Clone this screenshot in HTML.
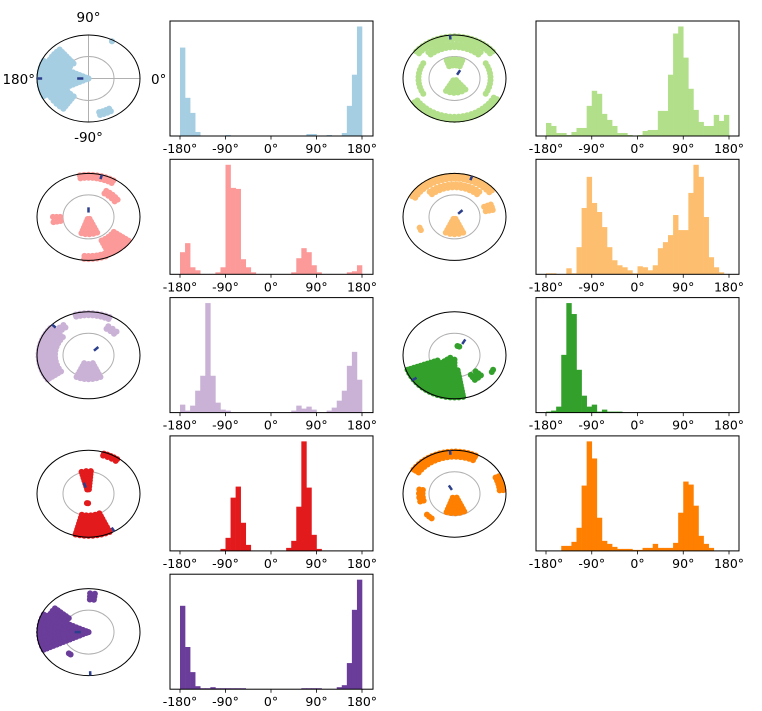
<!DOCTYPE html>
<html><head><meta charset="utf-8"><style>
html,body{margin:0;padding:0;background:#fff;}
svg{display:block;font-family:"DejaVu Sans","Liberation Sans",sans-serif;}
</style></head><body>
<svg id="chart" width="762" height="711" viewBox="0 0 762 711" xmlns="http://www.w3.org/2000/svg">
<g id="layer"></g>
</svg>
<script>
const binEdges = [-180,-170,-160,-150,-140,-130,-120,-110,-100,-90,-80,-70,-60,-50,-40,-30,-20,-10,0,10,20,30,40,50,60,70,80,90,100,110,120,130,140,150,160,170,180];
const tickValues = [-180,-90,0,90,180];
const tickLabels = ["-180°","-90°","0°","90°","180°"];
const seriesNames = ["light-blue","light-green","pink","light-orange","lavender","green","red","orange","purple"];
const seriesColors = ["#a6cee3","#b2df8a","#fb9a99","#fdbf6f","#cab2d6","#33a02c","#e31a1c","#ff7f00","#6a3d9a"];
const counts0 = [88,38,23,4,0,0,0,0,0,1,0,0,0,0,0,0,0,0,0,0,0,0,0,0,0,2,2,0,0,1,0,0,3,30,61,109];
const counts1 = [13,10,3,3,1,4,8,8,30,45,42,22,16,10,3,3,1,0,1,5,6,6,25,25,61,102,109,78,47,26,14,10,10,21,15,21];
const counts2 = [22,31,7,4,0,0,0,2,7,109,86,85,15,7,2,0,0,0,0,0,0,0,2,16,26,22,9,2,0,0,0,0,0,2,3,9];
const counts3 = [1,1,0,0,6,1,27,66,97,71,62,47,27,14,9,7,4,1,8,7,4,9,26,32,39,59,44,44,81,109,97,57,17,7,2,0];
const counts4 = [8,2,7,22,37,110,37,10,3,2,0,0,0,0,0,0,0,0,0,0,0,0,2,7,4,6,3,0,0,2,5,12,22,47,61,33];
const counts5 = [1,2,6,58,110,99,43,17,6,8,1,3,1,1,1,0,0,0,0,0,0,0,0,0,0,0,0,0,0,0,0,0,0,0,0,0];
const counts6 = [0,0,0,0,0,0,0,0,2,13,53,64,28,6,0,0,0,0,0,0,0,3,10,44,109,63,16,2,0,0,0,0,0,0,0,0];
const counts7 = [0,0,0,5,5,9,23,65,109,92,33,10,7,4,2,2,2,1,1,3,3,7,3,3,3,8,38,69,66,45,15,7,3,0,0,0];
const counts8 = [83,42,17,3,1,1,2,1,1,1,1,1,1,0,0,0,0,0,0,0,0,0,0,0,1,1,1,1,0,0,0,2,4,26,79,109];
const allCounts = [counts0,counts1,counts2,counts3,counts4,counts5,counts6,counts7,counts8];
// polar scatter regions: [angleStart, angleEnd, rInner, rOuter]
const regions0 = [[155,205,0.05,1],[165,195,0,0.4],[130,155,0.45,0.9],[205,235,0.5,0.9],[285,300,0.8,0.9],[62,62,0.98,0.98]];
const regions1 = [[40,140,0.9,1],[50,130,0.72,0.82],[215,330,0.88,0.96],[150,210,0.7,0.72],[330,390,0.7,0.72],[240,310,0.05,0.35],[70,110,0.3,0.45]];
const regions2 = [[60,100,0.9,1],[35,60,0.62,0.72],[180,190,0.55,0.7],[250,295,0.05,0.45],[295,325,0.6,0.95],[265,290,0.9,1]];
const regions3 = [[40,150,0.88,1],[50,130,0.68,0.76],[245,295,0.05,0.45],[12,22,0.62,0.76],[200,205,0.72,0.76]];
const regions4 = [[140,215,0.65,1],[65,105,0.92,1],[245,295,0.2,0.55],[45,60,0.7,0.78],[125,138,0.78,0.88]];
const regions5 = [[200,280,0.35,1],[215,270,0.1,0.4],[305,318,0.55,0.7],[65,75,0.22,0.28],[332,336,0.82,0.86]];
const regions6 = [[55,72,0.92,1],[85,105,0.1,0.55],[255,295,0.5,1],[262,268,0.22,0.28]];
const regions7 = [[65,145,0.85,1],[5,25,0.88,0.98],[250,295,0.1,0.5],[172,195,0.62,0.72],[222,232,0.72,0.78]];
const regions8 = [[155,205,0.05,1],[165,195,0,0.5],[140,155,0.5,0.9],[82,88,0.75,0.92],[232,236,0.62,0.68]];
const allRegions = [regions0,regions1,regions2,regions3,regions4,regions5,regions6,regions7,regions8];
// mean direction markers: [centerAngle, centerR, rimAngle]
const markers = [[180,0.1,180],[60,0.1,95],[90,0.1,75],[45,0.1,70],[45,0.15,135],[60,0.3,215],[110,0.15,300],[120,0.1,95],[180,0.15,272]];

const NS = "http://www.w3.org/2000/svg";
const layer = document.getElementById("layer");
function mk(tag, attrs, parent){const e=document.createElementNS(NS,tag);for(const k in attrs)e.setAttribute(k,attrs[k]);(parent||layer).appendChild(e);return e;}

for (let i=0;i<9;i++){
  const row=Math.floor(i/2), col=i%2;
  const top=21+138.3*row, H=115;
  const boxX= col===0?170:536, boxW=203;
  const x0 = col===0?180:546, x1 = col===0?362:729;
  const xs = v => x0+(v+180)/360*(x1-x0);
  const counts=allCounts[i];
  const ymax=Math.max(...counts)*1.05;
  const ys = v => top+H-v/ymax*H;
  const g=mk("g",{});
  
  
  for(let b=0;b<counts.length;b++){
    if(counts[b]<=0) continue;
    const xa=xs(binEdges[b]), xb=xs(binEdges[b+1]);
    const r=mk("rect",{x:xa,y:ys(counts[b]),width:xb-xa+0.3,height:top+H-ys(counts[b]),fill:seriesColors[i]},g);
    
    
  }
  const box=mk("rect",{x:boxX,y:top,width:boxW,height:H,fill:"none",stroke:"#000","stroke-width":1},g);
  
  
  tickValues.forEach((t,k)=>{
    mk("line",{x1:xs(t),x2:xs(t),y1:top+H,y2:top+H+3.5,stroke:"#000","stroke-width":0.8},g);
    const tx=mk("text",{x:xs(t),y:top+H+17,"text-anchor":"middle","font-size":12.5,fill:"#000"},g);
    tx.textContent=tickLabels[k];
    
    
  });
  // polar scatter
  const cx = col===0?88.5:454.5, cy=78.5+138.4*row, rx=51.5, ry=43.5;
  const pg=mk("g",{});
  
  
  const pt=(a,r)=>[cx+r*rx*Math.cos(a*Math.PI/180), cy-r*ry*Math.sin(a*Math.PI/180)];
  if(i===0){
    mk("line",{x1:cx-rx,x2:cx+rx,y1:cy,y2:cy,stroke:"#b0b0b0","stroke-width":1},pg);
    mk("line",{x1:cx,x2:cx,y1:cy-ry,y2:cy+ry,stroke:"#b0b0b0","stroke-width":1},pg);
  }
  mk("ellipse",{cx:cx,cy:cy,rx:25.5,ry:22,fill:"none",stroke:"#b0b0b0","stroke-width":1},pg);
  allRegions[i].forEach(reg=>{
    const [a1,a2,r1,r2]=reg;
    for(let r=r1;r<=r2+1e-6;r+=0.07){
      const circ=Math.max(r,0.08)*2*Math.PI*48*(a2-a1)/360;
      const n=Math.max(1,Math.round(circ/4));
      for(let k=0;k<=n;k++){
        const a=a1+(a2-a1)*k/Math.max(n,1);
        const [px,py]=pt(a,Math.min(r,0.97));
        mk("circle",{cx:px,cy:py,r:3,fill:seriesColors[i]},pg);
      }
      if(r2===r1) break;
    }
  });
  const e=mk("ellipse",{cx:cx,cy:cy,rx:rx,ry:ry,fill:"none",stroke:"#000","stroke-width":1},pg);
  
  
  const [ma,mr,rim]=markers[i];
  const [c1x,c1y]=pt(ma,mr), [c2x,c2y]=pt(ma,mr+0.12);
  mk("line",{x1:c1x,y1:c1y,x2:c2x,y2:c2y,stroke:"#2b3f8c","stroke-width":2.5},pg);
  const [r1x,r1y]=pt(rim,0.9), [r2x,r2y]=pt(rim,1.0);
  mk("line",{x1:r1x,y1:r1y,x2:r2x,y2:r2y,stroke:"#2b3f8c","stroke-width":2.5},pg);
}
const polarLabels=[["90°",88.5,22,"middle"],["180°",35,84,"end"],["0°",151,84,"start"],["-90°",88.5,142,"middle"]];
polarLabels.forEach(l=>{
  const t=mk("text",{x:l[1],y:l[2],"text-anchor":l[3],"font-size":13.5,fill:"#000"});
  t.textContent=l[0];
  
  
});
</script>
</body></html>
